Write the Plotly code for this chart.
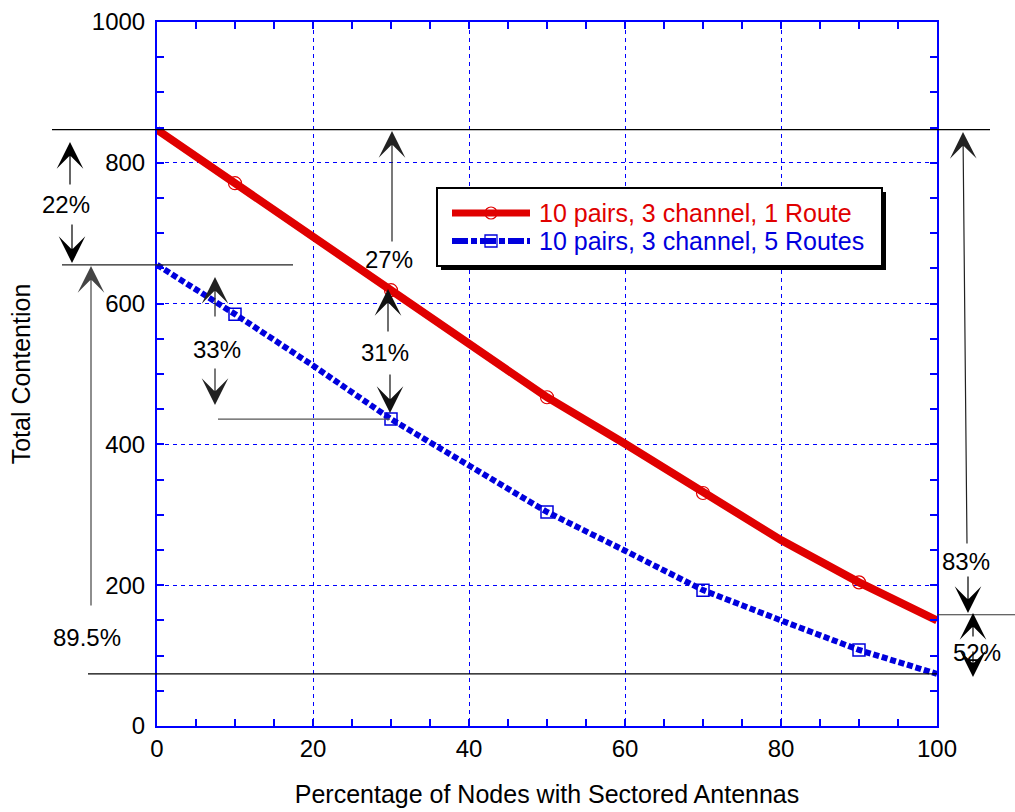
import plotly.graph_objects as go

# Percentage of nodes with sectored antennas
pct = [0, 10, 20, 30, 40, 50, 60, 70, 80, 90, 100]
# Total contention, 10 pairs / 3 channels / 1 route
one_route = [847, 771, 695, 619, 540, 467, 401, 331, 264, 204, 150]
# Total contention, 10 pairs / 3 channels / 5 routes
five_routes = [655, 585, 512, 436, 370, 304, 249, 193, 150, 108, 74]
# Points that carry an open marker
marker_pct = [10, 30, 50, 70, 90]

x_ticks = [0, 20, 40, 60, 80, 100]
y_ticks = [0, 200, 400, 600, 800, 1000]

RED = "#e00000"
BLUE = "#0000dd"
AXIS_BLUE = "#0000ff"
FONT = "Liberation Sans, Arial, sans-serif"

W, H = 1015, 812
L, R, T, B = 157, 78, 22, 86
PW, PH = W - L - R, H - T - B


def pxx(p):
    """Pixel column -> paper x."""
    return (p - L) / PW


def pxy(p):
    """Pixel row -> paper y."""
    return (H - B - p) / PH


def vy(v):
    """Contention value -> paper y."""
    return v / 1000


def at(xs, ys, keep):
    return [y for x, y in zip(xs, ys) if x in keep]


fig = go.Figure()

fig.add_trace(go.Scatter(
    x=pct, y=one_route, mode="lines",
    line=dict(color=RED, width=8), showlegend=False, hoverinfo="skip"))
fig.add_trace(go.Scatter(
    x=marker_pct, y=at(pct, one_route, marker_pct), mode="markers",
    marker=dict(symbol="circle-open", size=13, color=RED, line=dict(width=1.2)),
    showlegend=False, hoverinfo="skip"))

fig.add_trace(go.Scatter(
    x=pct, y=five_routes, mode="lines",
    line=dict(color=BLUE, width=6, dash="6px,2.8px"),
    showlegend=False, hoverinfo="skip"))
fig.add_trace(go.Scatter(
    x=marker_pct, y=at(pct, five_routes, marker_pct), mode="markers",
    marker=dict(symbol="square-open", size=12, color=BLUE, line=dict(width=1.5)),
    showlegend=False, hoverinfo="skip"))

shapes = []


def hline(yp, x0, x1, color="#000", width=1.2):
    shapes.append(dict(type="line", xref="paper", yref="paper",
                       x0=pxx(x0), x1=pxx(x1), y0=yp, y1=yp,
                       line=dict(color=color, width=width)))


# Reference levels
hline(vy(one_route[0]), 52, 990)
hline(vy(five_routes[0]), 62, 293, "#222")
hline(vy(five_routes[3]), 218, 390, "#555")
hline(vy(five_routes[-1]), 88, 937)
hline(vy(158), 937, 1015, "#333")

# Legend box with drop shadow
shapes.append(dict(type="rect", xref="paper", yref="paper",
                   x0=pxx(441), x1=pxx(886), y0=pxy(270), y1=pxy(192),
                   fillcolor="#000", line=dict(width=0), layer="above"))
shapes.append(dict(type="rect", xref="paper", yref="paper",
                   x0=pxx(437), x1=pxx(882), y0=pxy(266), y1=pxy(188),
                   fillcolor="#fff", line=dict(color="#000", width=2), layer="above"))
shapes.append(dict(type="line", xref="paper", yref="paper",
                   x0=pxx(452), x1=pxx(530), y0=pxy(213), y1=pxy(213),
                   line=dict(color=RED, width=7), layer="above"))
shapes.append(dict(type="circle", xref="paper", yref="paper",
                   x0=pxx(485), x1=pxx(497), y0=pxy(219), y1=pxy(207),
                   line=dict(color=RED, width=1.2), fillcolor="rgba(0,0,0,0)", layer="above"))
shapes.append(dict(type="line", xref="paper", yref="paper",
                   x0=pxx(452), x1=pxx(530), y0=pxy(241), y1=pxy(241),
                   line=dict(color=BLUE, width=6, dash="16px,3px,6px,3px"), layer="above"))
shapes.append(dict(type="rect", xref="paper", yref="paper",
                   x0=pxx(485), x1=pxx(497), y0=pxy(247), y1=pxy(235),
                   line=dict(color=BLUE, width=1.3), fillcolor="rgba(0,0,0,0)", layer="above"))

annotations = []


def label(text, x, y, color="#000", size=24, anchor="center"):
    annotations.append(dict(text=text, xref="paper", yref="paper",
                            x=pxx(x), y=pxy(y), showarrow=False,
                            xanchor=anchor, yanchor="middle",
                            font=dict(family=FONT, size=size, color=color)))


def arrow(tip, tail, color="#000"):
    annotations.append(dict(text="", xref="paper", yref="paper",
                            x=pxx(tip[0]), y=pxy(tip[1]),
                            ax=tail[0] - tip[0], ay=tail[1] - tip[1],
                            showarrow=True, arrowhead=3, arrowsize=3.7,
                            arrowwidth=1.2, arrowcolor=color, standoff=0))


label("10 pairs, 3 channel, 1 Route", 537, 213, RED, size=25, anchor="left")
label("10 pairs, 3 channel, 5 Routes", 537, 241, BLUE, size=25, anchor="left")

arrow((70, 142), (70, 186))
arrow((72, 263), (72, 223))
label("22%", 66, 205)

arrow((91, 266), (91, 607), "#444")
label("89.5%", 87, 637)

arrow((215, 277), (215, 318), "#222")
arrow((215, 405), (215, 367), "#222")
label("33%", 217, 349)

arrow((392, 131), (392, 243), "#222")
label("27%", 389, 259)

arrow((388, 289), (388, 333), "#111")
arrow((390, 413), (390, 373), "#111")
label("31%", 385, 352)

arrow((963, 132), (967, 545), "#222")
arrow((968, 613), (968, 575))
label("83%", 966, 561)

arrow((973, 613), (973, 638))
arrow((973, 677), (973, 650))
label("52%", 977, 652)

axis_common = dict(
    showline=True, linecolor=AXIS_BLUE, linewidth=2, mirror="allticks",
    ticks="inside", ticklen=7, tickwidth=1.5, tickcolor=AXIS_BLUE,
    showgrid=True, gridcolor=AXIS_BLUE, gridwidth=1, griddash="4px,4px",
    zeroline=False,
    tickfont=dict(family=FONT, size=24, color="#000"),
)

fig.update_xaxes(
    range=[0, 100], tickvals=x_ticks, ticktext=[str(v) for v in x_ticks],
    minor=dict(dtick=5, ticks="inside", ticklen=7, tickwidth=1.5, tickcolor=AXIS_BLUE,
               showgrid=False),
    title=dict(text="Percentage of Nodes with Sectored Antennas",
               font=dict(family=FONT, size=25, color="#000"), standoff=25),
    **axis_common)
fig.update_yaxes(
    range=[0, 1000], tickvals=y_ticks, ticktext=[str(v) for v in y_ticks],
    minor=dict(dtick=50, ticks="inside", ticklen=7, tickwidth=1.5, tickcolor=AXIS_BLUE,
               showgrid=False),
    ticklabelstandoff=5,
    title=dict(text="Total Contention",
               font=dict(family=FONT, size=25, color="#000"), standoff=54),
    **axis_common)

fig.update_layout(
    width=W, height=H,
    margin=dict(l=L, r=R, t=T, b=B, autoexpand=False),
    paper_bgcolor="#fff", plot_bgcolor="#fff",
    shapes=shapes, annotations=annotations, showlegend=False,
    font=dict(family=FONT, size=24, color="#000"),
)

fig.write_html("out.html")
